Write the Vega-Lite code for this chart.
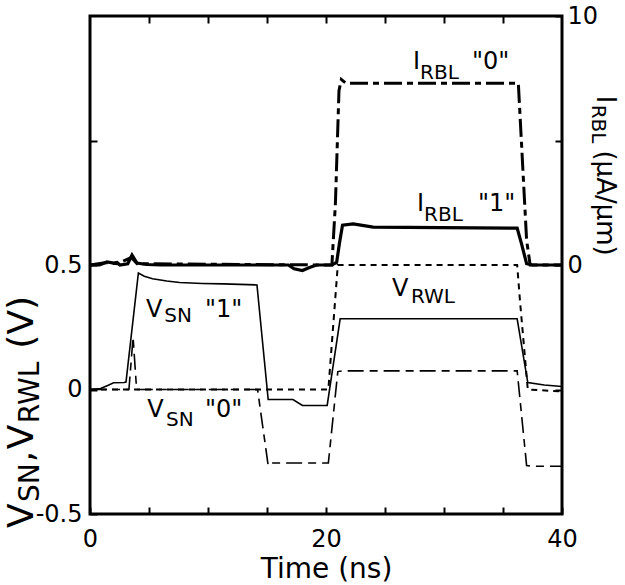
{
  "$schema": "https://vega.github.io/schema/vega-lite/v6.json",
  "width": 472,
  "height": 498,
  "autosize": {"type": "none"},
  "padding": {"left": 90, "top": 16, "right": 63, "bottom": 71},
  "background": "white",
  "config": {
    "font": "DejaVu Sans",
    "view": {"stroke": "black", "strokeWidth": 3},
    "axis": {
      "domain": false,
      "grid": false,
      "ticks": true,
      "tickColor": "black",
      "tickWidth": 2,
      "tickSize": -7,
      "labelColor": "black",
      "labelFont": "DejaVu Sans",
      "labelFontSize": 24,
      "titleFont": "DejaVu Sans",
      "titleColor": "black",
      "titleFontWeight": "normal"
    }
  },
  "datasets": {
    "volt": [
      {"s": "sn1", "t": 0, "v": 0},
      {"s": "sn1", "t": 0.9, "v": 0.004},
      {"s": "sn1", "t": 1.5, "v": 0.016},
      {"s": "sn1", "t": 2.0, "v": 0.027},
      {"s": "sn1", "t": 2.9, "v": 0.028},
      {"s": "sn1", "t": 3.05, "v": 0.03},
      {"s": "sn1", "t": 4.1, "v": 0.468},
      {"s": "sn1", "t": 4.6, "v": 0.455},
      {"s": "sn1", "t": 5.3, "v": 0.445},
      {"s": "sn1", "t": 6.5, "v": 0.436},
      {"s": "sn1", "t": 7.6, "v": 0.43},
      {"s": "sn1", "t": 9.5, "v": 0.426},
      {"s": "sn1", "t": 11.3, "v": 0.424},
      {"s": "sn1", "t": 14.15, "v": 0.42},
      {"s": "sn1", "t": 15.1, "v": -0.04},
      {"s": "sn1", "t": 17.2, "v": -0.04},
      {"s": "sn1", "t": 18.0, "v": -0.064},
      {"s": "sn1", "t": 20.1, "v": -0.064},
      {"s": "sn1", "t": 21.2, "v": 0.284},
      {"s": "sn1", "t": 36.2, "v": 0.284},
      {"s": "sn1", "t": 37.1, "v": 0.028},
      {"s": "sn1", "t": 38.5, "v": 0.018},
      {"s": "sn1", "t": 40, "v": 0.012},
      {"s": "sn0", "t": 0, "v": 0},
      {"s": "sn0", "t": 3.3, "v": 0},
      {"s": "sn0", "t": 3.65, "v": 0.21},
      {"s": "sn0", "t": 3.95, "v": 0},
      {"s": "sn0", "t": 14.2, "v": 0},
      {"s": "sn0", "t": 15.1, "v": -0.305},
      {"s": "sn0", "t": 15.5, "v": -0.295},
      {"s": "sn0", "t": 20.2, "v": -0.295},
      {"s": "sn0", "t": 21.0, "v": 0.072},
      {"s": "sn0", "t": 21.4, "v": 0.075},
      {"s": "sn0", "t": 36.2, "v": 0.075},
      {"s": "sn0", "t": 37.0, "v": -0.305},
      {"s": "sn0", "t": 37.4, "v": -0.308},
      {"s": "sn0", "t": 40, "v": -0.308},
      {"s": "rwl", "t": 0, "v": 0},
      {"s": "rwl", "t": 20.2, "v": 0},
      {"s": "rwl", "t": 21.0, "v": 0.5},
      {"s": "rwl", "t": 36.2, "v": 0.5},
      {"s": "rwl", "t": 36.45, "v": 0.35},
      {"s": "rwl", "t": 37.1, "v": 0},
      {"s": "rwl", "t": 40, "v": -0.008}
    ],
    "curr": [
      {"s": "i1", "t": 0, "i": 0},
      {"s": "i1", "t": 0.8, "i": 0},
      {"s": "i1", "t": 1.44, "i": 0.12},
      {"s": "i1", "t": 2.0, "i": 0.08},
      {"s": "i1", "t": 2.29, "i": 0.1},
      {"s": "i1", "t": 2.54, "i": 0},
      {"s": "i1", "t": 3.2, "i": 0.05},
      {"s": "i1", "t": 3.56, "i": 0.4},
      {"s": "i1", "t": 3.98, "i": 0.08},
      {"s": "i1", "t": 4.8, "i": 0.02},
      {"s": "i1", "t": 6, "i": 0},
      {"s": "i1", "t": 16.8, "i": 0},
      {"s": "i1", "t": 17.3, "i": -0.15},
      {"s": "i1", "t": 18.0, "i": -0.22},
      {"s": "i1", "t": 18.6, "i": -0.1},
      {"s": "i1", "t": 19.2, "i": 0},
      {"s": "i1", "t": 20.5, "i": 0},
      {"s": "i1", "t": 20.9, "i": 0.1},
      {"s": "i1", "t": 21.15, "i": 0.9},
      {"s": "i1", "t": 21.4, "i": 1.6},
      {"s": "i1", "t": 22.3, "i": 1.65},
      {"s": "i1", "t": 24, "i": 1.52},
      {"s": "i1", "t": 36.2, "i": 1.48},
      {"s": "i1", "t": 36.6, "i": 0.8},
      {"s": "i1", "t": 37.0, "i": 0.05},
      {"s": "i1", "t": 37.5, "i": 0},
      {"s": "i1", "t": 40, "i": 0},
      {"s": "i0", "t": 0, "i": 0},
      {"s": "i0", "t": 1.4, "i": 0.1},
      {"s": "i0", "t": 2.3, "i": 0.05},
      {"s": "i0", "t": 3.5, "i": 0.3},
      {"s": "i0", "t": 4.0, "i": 0.05},
      {"s": "i0", "t": 20.5, "i": 0},
      {"s": "i0", "t": 20.8, "i": 2.5},
      {"s": "i0", "t": 21.1, "i": 7.0},
      {"s": "i0", "t": 21.3, "i": 7.45},
      {"s": "i0", "t": 21.7, "i": 7.3},
      {"s": "i0", "t": 36.3, "i": 7.3},
      {"s": "i0", "t": 36.5, "i": 5.5},
      {"s": "i0", "t": 37.0, "i": 1.0},
      {"s": "i0", "t": 37.3, "i": 0},
      {"s": "i0", "t": 40, "i": 0}
    ],
    "labels": [
      {"g": "in", "t": 27.37, "v": 1.288, "text": "I"},
      {"g": "in", "t": 32.37, "v": 1.288, "text": "\"0\""},
      {"g": "in", "t": 27.71, "v": 0.716, "text": "I"},
      {"g": "in", "t": 32.88, "v": 0.716, "text": "\"1\""},
      {"g": "in", "t": 25.6, "v": 0.376, "text": "V"},
      {"g": "in", "t": 4.75, "v": 0.292, "text": "V"},
      {"g": "in", "t": 9.75, "v": 0.292, "text": "\"1\""},
      {"g": "in", "t": 4.85, "v": -0.112, "text": "V"},
      {"g": "in", "t": 9.75, "v": -0.112, "text": "\"0\""},
      {"g": "insub", "t": 27.97, "v": 1.248, "text": "RBL"},
      {"g": "insub", "t": 28.31, "v": 0.676, "text": "RBL"},
      {"g": "insub", "t": 27.2, "v": 0.348, "text": "RWL"},
      {"g": "insub", "t": 6.3, "v": 0.272, "text": "SN"},
      {"g": "insub", "t": 6.45, "v": -0.148, "text": "SN"},
      {"g": "lt", "t": -4.83, "v": -0.556, "text": "V"},
      {"g": "lt", "t": -4.83, "v": -0.292, "text": ","},
      {"g": "lt", "t": -4.83, "v": -0.24, "text": "V"},
      {"g": "lt", "t": -4.83, "v": 0.164, "text": "(V)"},
      {"g": "ltsub", "t": -4.32, "v": -0.452, "text": "SN"},
      {"g": "ltsub", "t": -4.32, "v": -0.136, "text": "RWL"},
      {"g": "rt", "t": 42.97, "v": 1.18, "text": "I"},
      {"g": "rt", "t": 42.97, "v": 0.96, "text": "(µA/µm)"},
      {"g": "rtsub", "t": 42.54, "v": 1.144, "text": "RBL"}
    ]
  },
  "layer": [
    {
      "encoding": {
        "x": {
          "field": "t",
          "type": "quantitative",
          "scale": {"domain": [0, 40], "nice": false},
          "axis": {
            "orient": "bottom",
            "values": [0, 5, 10, 15, 20, 25, 30, 35, 40],
            "labelExpr": "datum.value % 20 === 0 ? datum.label : ''",
            "labelPadding": 20,
            "labelFlush": false,
            "title": "Time (ns)",
            "titleFontSize": 28,
            "titlePadding": 4
          }
        },
        "y": {
          "field": "v",
          "type": "quantitative",
          "scale": {"domain": [-0.5, 1.5], "nice": false, "zero": false},
          "axis": {
            "orient": "left",
            "values": [-0.5, 0, 0.5, 1.0],
            "labelExpr": "datum.value === 0 ? '0' : datum.value === 0.5 ? '0.5' : datum.value === -0.5 ? '-0.5' : ''",
            "labelPadding": 15,
            "labelFlush": false,
            "title": null
          }
        }
      },
      "layer": [
        {
          "data": {"name": "volt"},
          "transform": [{"filter": "datum.s === 'rwl'"}],
          "mark": {"type": "line", "color": "black", "strokeWidth": 2, "strokeDash": [6, 5]}
        },
        {
          "data": {"name": "volt"},
          "transform": [{"filter": "datum.s === 'sn0'"}],
          "mark": {"type": "line", "color": "black", "strokeWidth": 1.6, "strokeDash": [16, 6, 8, 6]}
        },
        {
          "data": {"name": "volt"},
          "transform": [{"filter": "datum.s === 'sn1'"}],
          "mark": {"type": "line", "color": "black", "strokeWidth": 1.6}
        },
        {
          "data": {"name": "labels"},
          "transform": [{"filter": "datum.g === 'in'"}],
          "mark": {"type": "text", "align": "left", "baseline": "alphabetic", "fontSize": 24, "color": "black"},
          "encoding": {"text": {"field": "text"}}
        },
        {
          "data": {"name": "labels"},
          "transform": [{"filter": "datum.g === 'insub'"}],
          "mark": {"type": "text", "align": "left", "baseline": "alphabetic", "fontSize": 20, "color": "black"},
          "encoding": {"text": {"field": "text"}}
        },
        {
          "data": {"name": "labels"},
          "transform": [{"filter": "datum.g === 'lt'"}],
          "mark": {"type": "text", "align": "left", "baseline": "alphabetic", "angle": 270, "fontSize": 36, "color": "black"},
          "encoding": {"text": {"field": "text"}}
        },
        {
          "data": {"name": "labels"},
          "transform": [{"filter": "datum.g === 'ltsub'"}],
          "mark": {"type": "text", "align": "left", "baseline": "alphabetic", "angle": 270, "fontSize": 28, "color": "black"},
          "encoding": {"text": {"field": "text"}}
        },
        {
          "data": {"name": "labels"},
          "transform": [{"filter": "datum.g === 'rt'"}],
          "mark": {"type": "text", "align": "left", "baseline": "alphabetic", "angle": 90, "fontSize": 26, "color": "black"},
          "encoding": {"text": {"field": "text"}}
        },
        {
          "data": {"name": "labels"},
          "transform": [{"filter": "datum.g === 'rtsub'"}],
          "mark": {"type": "text", "align": "left", "baseline": "alphabetic", "angle": 90, "fontSize": 20, "color": "black"},
          "encoding": {"text": {"field": "text"}}
        }
      ]
    },
    {
      "data": {"name": "curr"},
      "encoding": {
        "x": {
          "field": "t",
          "type": "quantitative",
          "scale": {"domain": [0, 40], "nice": false},
          "axis": {
            "orient": "top",
            "values": [5, 10, 15, 20, 25, 30, 35],
            "labels": false,
            "title": null
          }
        },
        "y": {
          "field": "i",
          "type": "quantitative",
          "scale": {"domain": [-10, 10], "nice": false, "zero": false},
          "axis": {
            "orient": "right",
            "values": [-5, 0, 5, 10],
            "labelExpr": "datum.value === 0 || datum.value === 10 ? datum.label : ''",
            "labelPadding": 12,
            "labelFlush": false,
            "title": null
          }
        }
      },
      "layer": [
        {
          "transform": [{"filter": "datum.s === 'i0'"}],
          "mark": {"type": "line", "color": "black", "strokeWidth": 3, "strokeDash": [18, 5, 6, 5]}
        },
        {
          "transform": [{"filter": "datum.s === 'i1'"}],
          "mark": {"type": "line", "color": "black", "strokeWidth": 3.2}
        }
      ]
    }
  ],
  "resolve": {"scale": {"y": "independent"}, "axis": {"x": "independent"}}
}
